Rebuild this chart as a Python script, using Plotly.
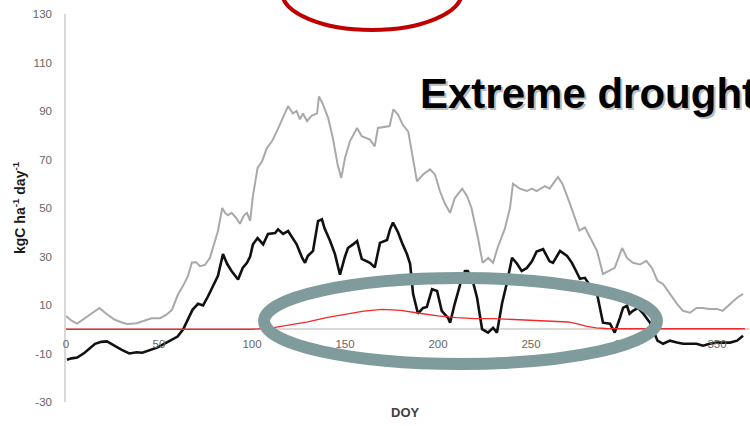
import plotly.graph_objects as go

# Day of year and daily carbon flux (kgC ha-1 day-1)
grey_doy = [0, 3, 6, 11, 15, 18, 21.5, 26, 30, 33, 38, 42, 46, 50.5, 54, 57, 60, 63, 65.6, 67.7,
            70, 72, 74.7, 77.4, 79.6, 81.7, 84, 85.5, 87, 89, 91.4, 93.5, 95.7, 97.3, 99, 100.5,
            103, 105.4, 108, 110.8, 113.4, 116.7, 119.4, 122, 124, 125.8, 127.4, 129.6, 132, 135,
            136, 138, 141, 143.5, 146, 148, 150, 152.7, 156.5, 159, 163.4, 166, 167.7, 174, 176,
            178.5, 181, 184, 186, 188.7, 192, 195.7, 198.4, 201, 203.8, 206.5, 209, 213, 215.6,
            218, 221.5, 224, 227, 229.6, 232, 236, 238.7, 240.3, 244, 247.8, 250.5, 253, 257.5,
            260, 264.5, 267, 271, 276, 279, 281.7, 285.5, 288.7, 291.4, 295, 299, 301.6, 304.8,
            308.6, 312, 315, 318, 321, 324.7, 328.5, 331.7, 335.5, 339, 342.5, 346, 350, 353, 357,
            360.8, 364]
grey_val = [5.5, 3.5, 2.3, 5, 7, 8.8, 6.5, 4, 2.8, 2.2, 2.5, 3.5, 4.5, 4.5, 6, 8, 14, 18, 22, 27.5,
            27.6, 26, 26.5, 29.5, 35.5, 40.5, 50, 48, 47, 48, 46, 43.5, 47, 48, 44.7, 55,
            66.5, 69.3, 74.7, 77.6, 81.7, 87, 92, 89, 90, 86.6, 89, 85.8, 88, 89,
            96, 93, 87, 78.8, 68, 62.4, 70.6, 77.6, 83, 79.6, 78.2, 75.4, 83, 83.8, 90.7,
            88.5, 84.4, 81.5, 72, 61, 63.8, 65.9, 63.8, 57, 51.6, 48, 54, 58, 55,
            50, 37.6, 27.4, 29.4, 27.4, 33.5, 41.6, 50, 60, 58, 57, 58, 57, 59,
            58, 62.8, 59.8, 51.6, 40.7, 42, 37.7, 32.3, 22.8, 24, 25.3, 33.5, 29.4, 27.4,
            26.7, 28.2, 25.3, 20, 18.7, 14.6, 10.5, 7.6, 6.8, 8.8, 8.8, 8.4, 8.4, 7.6, 10.5,
            13, 14.6]

black_doy = [0.5, 3, 6, 10, 15.6, 19, 22, 26, 30, 34, 38, 41, 45, 49, 54, 60, 63, 65.6, 68, 71,
             73.7, 76.3, 79, 81.7, 84.4, 86.6, 89, 92.5, 95, 97.3, 99, 100.5, 103, 106, 108.6,
             112.4, 114, 116.7, 119.4, 122, 124, 127, 128.5, 130, 132.8, 135.5, 137.6, 139, 142,
             144.6, 147.3, 150, 151.6, 154.3, 156.5, 159, 163.4, 166, 168.8, 172.6, 174.2, 175.8,
             178.5, 181, 183.3, 185, 186.6, 189.2, 192, 194, 196.8, 199.5, 202, 205.4, 206.5, 209,
             212, 214.5, 216, 218.3, 221, 223.7, 226.9, 229.6, 231.7, 234.4, 237, 239.8, 242.5,
             245, 247.8, 250.5, 253, 256.5, 257.5, 260, 261.8, 265.6, 269.4, 272, 274.7, 276.3,
             279, 281.7, 285.5, 287, 288.7, 292.5, 295, 297.8, 299.5, 301.6, 303, 304.8, 307.5,
             310, 312, 314, 316, 318, 321, 324.7, 328.5, 331.7, 335.5, 339, 342.5, 346, 350, 353,
             357, 360.8, 364]
black_val = [-12.6, -12, -11.7, -9.7, -6, -5.2, -5, -6.8, -8.5, -10, -9.5, -9.7, -8.8, -7.6, -5.5,
             -3, 0, 4.3, 8, 10.5, 9.8, 13.5, 17.9, 22, 31, 27, 24, 20.5, 25.3, 27.4, 30, 35,
             37.6, 35, 39.3, 39.7, 41.2, 39.3, 40.5, 37.6, 35, 29.4, 27.4, 30.2, 32.3, 44.6, 45.3,
             41.6, 36.4, 31, 22.5, 30, 33.5, 35, 36.4, 29, 27.4, 25.5, 35.6, 36.8, 41.2, 44, 40,
             35, 31, 27, 14.6, 6.5, 8.8, 9.2, 16.5, 15.8, 7.6, 4.7, 2.7, 10.5, 18.7, 24, 24, 21,
             13, 0, -1.4, 0.6, -1.4, 10.5, 19, 29.5, 27, 24, 25.3, 28, 32, 33, 31.5, 28, 27.4,
             32.3, 30.2, 27.4, 23.3, 20.8, 21.2, 18, 14.6, 8.8, 2.7, 2.3, -1.4, 4.7, 8.8, 9.7,
             6.4, 7.6, 8.8, 6.8, 4.7, 2.7, -1, -4.7, -6, -4.7, -5.5, -6, -6, -6, -6.8, -6, -5.5,
             -5.5, -5.5, -4.7, -2.7]

red_doy = [0, 100, 110, 120, 130, 140, 150, 160, 170, 180, 190, 200, 210, 220, 230, 240, 250,
           260, 270, 275, 280, 285, 290, 300, 365]
red_val = [0, 0, 0.5, 1.6, 3, 4.8, 6.2, 7.5, 8.2, 7.8, 6.6, 5.5, 4.8, 4.4, 4.4, 4.1, 3.8, 3.5,
           3.0, 2.2, 1.2, 0.6, 0.3, 0.2, 0.2]

x_ticks = [0, 50, 100, 150, 200, 250, 300, 350]
y_ticks = [-30, -10, 10, 30, 50, 70, 90, 110, 130]

FONT = "Liberation Sans, Arial, sans-serif"

fig = go.Figure()
fig.add_trace(go.Scatter(x=grey_doy, y=grey_val, mode="lines",
                         line=dict(color="#a9a9a9", width=2), hoverinfo="skip"))
fig.add_trace(go.Scatter(x=black_doy, y=black_val, mode="lines",
                         line=dict(color="#111111", width=2.6), hoverinfo="skip"))
fig.add_trace(go.Scatter(x=red_doy, y=red_val, mode="lines",
                         line=dict(color="#f02a2a", width=1.3), hoverinfo="skip"))

# highlight ellipse around the low-flux period
fig.add_shape(type="circle", xref="x", yref="y", x0=106.5, x1=317.7, y0=-14.3, y1=21.1,
              line=dict(color="#7f9b9c", width=12), layer="above")
# red ellipse at the top edge
fig.add_shape(type="circle", xref="paper", yref="paper", x0=0.3158, x1=0.5789,
              y0=0.9588, y1=1.1546, line=dict(color="#c00000", width=4), layer="above")

annotations = [
    dict(text="<b>Extreme drought</b>", x=(418 - 66) / 684, y=(402 - 93) / 388,
         xref="paper", yref="paper", xanchor="left", yanchor="middle", showarrow=False,
         font=dict(family=FONT, size=42, color="rgba(80,80,80,0.4)"), xshift=2, yshift=-2),
    dict(text="<b>Extreme drought</b>", x=(418 - 66) / 684, y=(402 - 93) / 388,
         xref="paper", yref="paper", xanchor="left", yanchor="middle", showarrow=False,
         font=dict(family=FONT, size=42, color="#000000")),
    dict(text="<b>kgC ha<sup>-1</sup> day<sup>-1</sup></b>", x=(19 - 66) / 684, y=0.5,
         xref="paper", yref="paper", xanchor="center", yanchor="middle", textangle=-90,
         showarrow=False, font=dict(family=FONT, size=14, color="#1a1a1a")),
    dict(text="<b>DOY</b>", x=(405 - 66) / 684, y=(402 - 413) / 388,
         xref="paper", yref="paper", xanchor="center", yanchor="middle",
         showarrow=False, font=dict(family=FONT, size=13, color="#404040")),
]

fig.update_layout(
    width=750, height=426,
    margin=dict(l=66, r=0, t=14, b=24),
    paper_bgcolor="white", plot_bgcolor="white",
    showlegend=False,
    annotations=annotations,
    xaxis=dict(range=[0, 684 / 1.86], tickvals=x_ticks, ticktext=[str(v) for v in x_ticks],
               showgrid=False, zeroline=False, showline=False, ticks="",
               anchor="free", position=30 / 160, ticklabelstandoff=6,
               tickfont=dict(family=FONT, size=11.5, color="#666666")),
    yaxis=dict(range=[-30, 130], tickvals=y_ticks, ticktext=[str(v) for v in y_ticks],
               showgrid=False, zeroline=True, zerolinecolor="#d9d9d9", zerolinewidth=1.5,
               showline=True, linecolor="#d9d9d9", linewidth=1.5, ticks="",
               ticklabelstandoff=10,
               tickfont=dict(family=FONT, size=11.5, color="#666666")),
)

fig.write_html("out.html")
